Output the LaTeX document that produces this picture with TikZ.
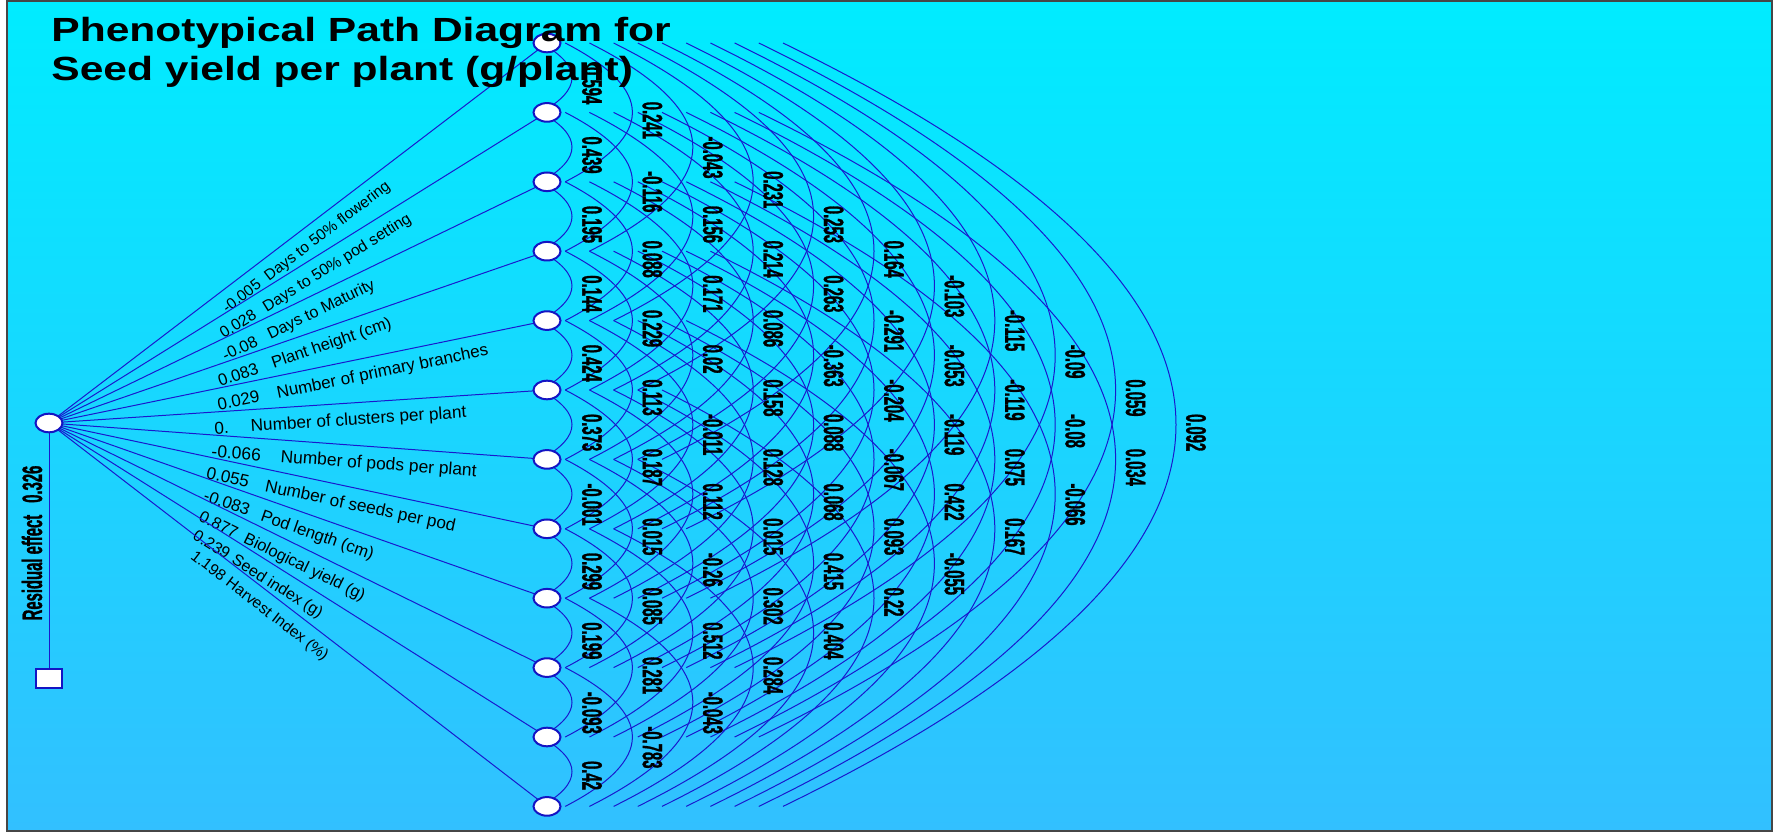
\documentclass[tikz,border=0pt]{standalone}
\usepackage{fontspec}
\setmainfont{Liberation Sans}
\newfontfamily\titlefont[FakeStretch=1.27]{Liberation Sans}
\newfontfamily\corrfont[FakeStretch=0.53,BoldFeatures={FakeBold=1}]{Liberation Sans}
\usepackage{xcolor}
\definecolor{pdblue}{RGB}{25,25,205}
\definecolor{pdnode}{RGB}{20,20,195}
\definecolor{pdcyan}{RGB}{0,236,255}
\definecolor{pdsky}{RGB}{50,192,255}
\definecolor{pdframe}{RGB}{70,70,70}
\usetikzlibrary{calc,shapes.geometric}
\pgfdeclarelayer{back}
\pgfdeclarelayer{wires}
\pgfsetlayers{back,wires,main}

\tikzset{
  trait/.style={ellipse,draw=pdnode,line width=1pt,fill=white,
                minimum width=13.5pt,minimum height=9.3pt,inner sep=0pt},
  resid/.style={rectangle,draw=pdnode,line width=1pt,fill=white,
                minimum width=12.8pt,minimum height=9.5pt,inner sep=0pt},
  wire/.style={draw=pdblue,line width=0.5pt},
  pathlabel/.style={sloped,anchor=north west,inner xsep=0pt,inner ysep=4.6pt,
                    font=\fontsize{#1}{10}\selectfont},
  corrlabel/.style={rotate=-90,anchor=west,inner sep=0pt,
                    font=\corrfont\bfseries\fontsize{14}{16}\selectfont}
}

%% correlation arc from trait #1 down to trait #2, labelled #3
\newcommand{\corrarc}[3]{%
  \pgfmathtruncatemacro{\corrgap}{#2-#1}%
  \pgfmathsetmacro{\corroff}{24.2*(\corrgap-1)-6}%
  \pgfmathsetmacro{\corrbow}{\corroff+4/3*(31+36.2*(\corrgap-1))}%
  \pgfmathsetmacro{\corrtxt}{45+60.4*(\corrgap-1)}%
  \begin{pgfonlayer}{wires}
    \draw[wire] ($(t#1)+(\corroff,0)$)
      .. controls ($(t#1)!1/3!(t#2)+(\corrbow,0)$)
      and ($(t#1)!2/3!(t#2)+(\corrbow,0)$) .. ($(t#2)+(\corroff,0)$);
  \end{pgfonlayer}
  \node[corrlabel] (r#1-#2) at ($(t#1)!0.5!(t#2)+(\corrtxt,-11)$) {#3};
}

\begin{document}
\begin{tikzpicture}[x=0.5pt,y=-0.5pt]
  \useasboundingbox (0,0) rectangle (1777,833);

  %% Backdrop and frame
  \begin{pgfonlayer}{back}
    \fill[white] (0,0) rectangle (1777,833);
    \shade[top color=pdcyan,bottom color=pdsky] (7,1) rectangle (1772,831);
    \draw[pdframe,line width=1pt] (7,1) rectangle (1772,831);
  \end{pgfonlayer}

  %% Seed yield, residual and the twelve traits
  \node[trait] (yield) at (49,423) {};
  \node[resid] (resid) at (49,678) {};
  \node[trait] (t1)  at (547,43.0) {};
  \node[trait] (t2)  at (547,112.4) {};
  \node[trait] (t3)  at (547,181.8) {};
  \node[trait] (t4)  at (547,251.2) {};
  \node[trait] (t5)  at (547,320.6) {};
  \node[trait] (t6)  at (547,390.0) {};
  \node[trait] (t7)  at (547,459.4) {};
  \node[trait] (t8)  at (547,528.8) {};
  \node[trait] (t9)  at (547,598.2) {};
  \node[trait] (t10) at (547,667.6) {};
  \node[trait] (t11) at (547,737.0) {};
  \node[trait] (t12) at (547,806.4) {};

  %% Direct effects
  \begin{pgfonlayer}{wires}
  \draw[wire] (yield.center) -- (resid.center);
  \draw[wire] (yield.center) -- node[pathlabel=7.7,pos=0.332]
        {-0.005\hspace{4.5pt}Days to 50\% flowering} (t1.center);
  \draw[wire] (yield.center) -- node[pathlabel=7.9,pos=0.328]
        {0.028\hspace{5.5pt}Days to 50\% pod setting} (t2.center);
  \draw[wire] (yield.center) -- node[pathlabel=8.1,pos=0.335]
        {-0.08\hspace{6.5pt}Days to Maturity} (t3.center);
  \draw[wire] (yield.center) -- node[pathlabel=8.3,pos=0.329]
        {0.083\hspace{7.5pt}Plant height (cm)} (t4.center);
  \draw[wire] (yield.center) -- node[pathlabel=8.5,pos=0.331]
        {0.029\hspace{9pt}Number of primary branches} (t5.center);
  \draw[wire] (yield.center) -- node[pathlabel=8.6,pos=0.329]
        {0.\hspace{11pt}Number of clusters per plant} (t6.center);
  \draw[wire] (yield.center) -- node[pathlabel=8.7,pos=0.328]
        {-0.066\hspace{10pt}Number of pods per plant} (t7.center);
  \draw[wire] (yield.center) -- node[pathlabel=8.6,pos=0.323]
        {0.055\hspace{8.5pt}Number of seeds per pod} (t8.center);
  \draw[wire] (yield.center) -- node[pathlabel=8.4,pos=0.322]
        {-0.083\hspace{6.5pt}Pod length (cm)} (t9.center);
  \draw[wire] (yield.center) -- node[pathlabel=8.2,pos=0.317]
        {0.877\hspace{4.5pt}Biological yield (g)} (t10.center);
  \draw[wire] (yield.center) -- node[pathlabel=8.0,pos=0.309]
        {0.239\hspace{3pt}Seed index (g)} (t11.center);
  \draw[wire] (yield.center) -- node[pathlabel=7.8,pos=0.308]
        {1.198\hspace{2.5pt}Harvest Index (\%)} (t12.center);
  \end{pgfonlayer}

  \node[rotate=90,inner sep=0pt,font=\corrfont\bfseries\fontsize{14}{16}\selectfont]
        (resnote) at (32,543) {Residual effect\hspace{6pt}0.326};

  %% Correlations, neighbours first
  \corrarc{1}{2}{0.594}
  \corrarc{2}{3}{0.439}
  \corrarc{3}{4}{0.195}
  \corrarc{4}{5}{0.144}
  \corrarc{5}{6}{0.424}
  \corrarc{6}{7}{0.373}
  \corrarc{7}{8}{-0.001}
  \corrarc{8}{9}{0.299}
  \corrarc{9}{10}{0.199}
  \corrarc{10}{11}{-0.093}
  \corrarc{11}{12}{0.42}

  \corrarc{1}{3}{0.241}
  \corrarc{2}{4}{-0.116}
  \corrarc{3}{5}{0.088}
  \corrarc{4}{6}{0.229}
  \corrarc{5}{7}{0.113}
  \corrarc{6}{8}{0.187}
  \corrarc{7}{9}{0.015}
  \corrarc{8}{10}{0.085}
  \corrarc{9}{11}{0.281}
  \corrarc{10}{12}{-0.783}

  \corrarc{1}{4}{-0.043}
  \corrarc{2}{5}{0.156}
  \corrarc{3}{6}{0.171}
  \corrarc{4}{7}{0.02}
  \corrarc{5}{8}{-0.011}
  \corrarc{6}{9}{0.112}
  \corrarc{7}{10}{-0.26}
  \corrarc{8}{11}{0.512}
  \corrarc{9}{12}{-0.043}

  \corrarc{1}{5}{0.231}
  \corrarc{2}{6}{0.214}
  \corrarc{3}{7}{0.086}
  \corrarc{4}{8}{0.158}
  \corrarc{5}{9}{0.128}
  \corrarc{6}{10}{0.015}
  \corrarc{7}{11}{0.302}
  \corrarc{8}{12}{0.284}

  \corrarc{1}{6}{0.253}
  \corrarc{2}{7}{0.263}
  \corrarc{3}{8}{-0.363}
  \corrarc{4}{9}{0.088}
  \corrarc{5}{10}{0.068}
  \corrarc{6}{11}{0.415}
  \corrarc{7}{12}{0.404}

  \corrarc{1}{7}{0.164}
  \corrarc{2}{8}{-0.291}
  \corrarc{3}{9}{-0.204}
  \corrarc{4}{10}{-0.067}
  \corrarc{5}{11}{0.093}
  \corrarc{6}{12}{0.22}

  \corrarc{1}{8}{-0.103}
  \corrarc{2}{9}{-0.053}
  \corrarc{3}{10}{-0.119}
  \corrarc{4}{11}{0.422}
  \corrarc{5}{12}{-0.055}

  \corrarc{1}{9}{-0.115}
  \corrarc{2}{10}{-0.119}
  \corrarc{3}{11}{0.075}
  \corrarc{4}{12}{0.167}

  \corrarc{1}{10}{-0.09}
  \corrarc{2}{11}{-0.08}
  \corrarc{3}{12}{-0.066}

  \corrarc{1}{11}{0.059}
  \corrarc{2}{12}{0.034}

  \corrarc{1}{12}{0.092}

  %% Title
  \node[anchor=north west,inner sep=0pt,align=left,
        font=\titlefont\bfseries\fontsize{16.75}{19.5}\selectfont]
        (title) at (51,17) {Phenotypical Path Diagram for\\Seed yield per plant (g/plant)};
\end{tikzpicture}
\end{document}
